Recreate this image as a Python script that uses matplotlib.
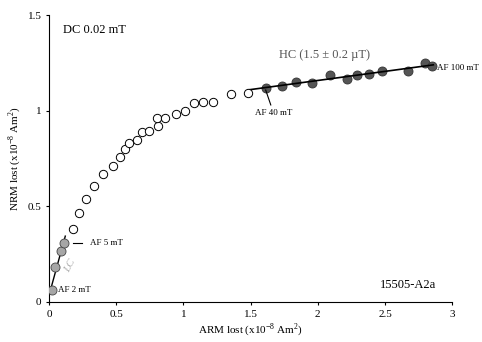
import matplotlib
matplotlib.use("Agg")
import matplotlib.pyplot as plt
import numpy as np

plt.rcParams['font.family'] = 'Liberation Serif'
plt.rcParams['mathtext.fontset'] = 'custom'
plt.rcParams['mathtext.rm'] = 'Liberation Serif'

# low coercivity steps (AF 2 - 5 mT)
lc_arm = [0.022, 0.043, 0.087, 0.112]
lc_nrm = [0.063, 0.185, 0.267, 0.31]

# intermediate steps (open circles)
mid_arm = [0.179, 0.224, 0.277, 0.336, 0.403, 0.478, 0.528, 0.567, 0.595, 0.652,
           0.692, 0.746, 0.811, 0.801, 0.861, 0.948, 1.01, 1.08, 1.145, 1.222,
           1.356, 1.48]
mid_nrm = [0.38, 0.464, 0.538, 0.606, 0.669, 0.711, 0.756, 0.798, 0.83, 0.847,
           0.887, 0.895, 0.92, 0.96, 0.96, 0.983, 1.0, 1.039, 1.045, 1.045,
           1.087, 1.092]

# high coercivity steps (AF 40 - 100 mT)
hc_arm = [1.615, 1.731, 1.836, 1.96, 2.09, 2.214, 2.289, 2.38, 2.475, 2.672,
          2.796, 2.851]
hc_nrm = [1.119, 1.131, 1.152, 1.143, 1.185, 1.164, 1.187, 1.19, 1.209, 1.209,
          1.248, 1.235]

fig = plt.figure(figsize=(4.82, 3.42), dpi=100)
ax = fig.add_axes([0.102, 0.117, 0.836, 0.839])

# fit lines
p = np.polyfit(lc_arm, lc_nrm, 1)
xl = np.array([0.005, 0.12])
ax.plot(xl, np.polyval(p, xl), color='black', lw=1, zorder=2)
p = np.polyfit(hc_arm, hc_nrm, 1)
xh = np.array([1.48, 2.86])
ax.plot(xh, np.polyval(p, xh), color='black', lw=1.2, zorder=2)

ax.plot(mid_arm, mid_nrm, 'o', ms=6, mfc='white', mec='black', mew=0.7, zorder=3)
ax.plot(lc_arm, lc_nrm, 'o', ms=6.5, mfc='#a6a6a6', mec='#444444', mew=0.6, zorder=3)
ax.plot(hc_arm, hc_nrm, 'o', ms=6.5, mfc='#555555', mec='#333333', mew=0.6, zorder=1)

ax.set_xlim(0, 3)
ax.set_ylim(0, 1.5)
ax.set_xticks([0, 0.5, 1, 1.5, 2, 2.5, 3])
ax.set_xticklabels(['0', '0.5', '1', '1.5', '2', '2.5', '3'])
ax.set_yticks([0, 0.5, 1, 1.5])
ax.set_yticklabels(['0', '0.5', '1', '1.5'])
ax.spines['top'].set_visible(False)
ax.spines['right'].set_visible(False)
ax.tick_params(labelsize=8, length=2.5, width=0.8, pad=3)
ax.set_xlabel(r'ARM lost (x10$^{-8}$ Am$^{2}$)', fontsize=8, labelpad=2)
ax.set_ylabel(r'NRM lost (x10$^{-8}$ Am$^{2}$)', fontsize=8, labelpad=3)

ax.text(0.1, 1.42, 'DC 0.02 mT', fontsize=9, va='center')
ax.text(1.71, 1.29, u'HC (1.5 \u00b1 0.2 \u00b5T)', fontsize=9, color='#555555', va='center')
ax.text(2.465, 0.09, '15505-A2a', fontsize=9, va='center')

ax.text(0.065, 0.063, 'AF 2 mT', fontsize=6.5, va='center')
ax.plot([0.177, 0.245], [0.308, 0.308], color='black', lw=0.8)
ax.text(0.304, 0.308, 'AF 5 mT', fontsize=6.5, va='center')
ax.text(0.155, 0.19, 'LC', fontsize=8, color='#b0b0b0', rotation=62,
        style='italic', ha='center', va='center')
ax.plot([1.612, 1.65], [1.108, 1.03], color='black', lw=0.8)
ax.text(1.535, 0.988, 'AF 40 mT', fontsize=6.5, va='center')
ax.text(2.886, 1.225, 'AF 100 mT', fontsize=6.5, va='center', clip_on=False)

fig.savefig('out.png', dpi=100)
